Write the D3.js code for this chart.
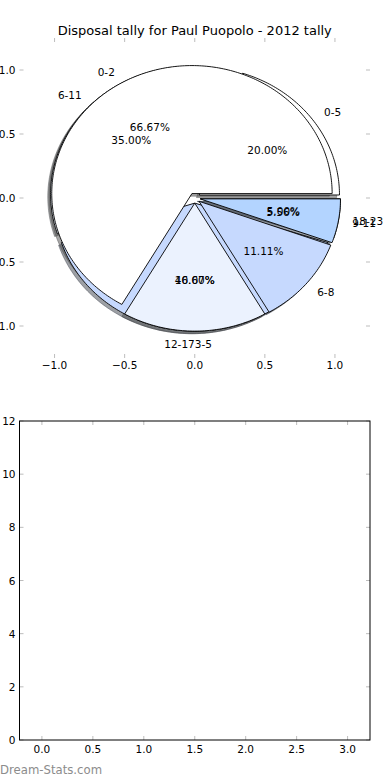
<!DOCTYPE html>
<html><head><meta charset="utf-8">
<script src="https://cdn.jsdelivr.net/npm/d3@7"></script>
<style>
body{margin:0;background:#fff;}
svg{display:block;font-family:'DejaVu Sans',sans-serif;}
</style>
</head><body>
<script>
// ---- data ----
const chartTitle = "Disposal tally for Paul Puopolo - 2012 tally";
const hourLabels6 = ["0-5", "6-11", "12-17", "18-23"];
const disposals6 = [4, 7, 8, 1];
const hourLabels3 = ["0-2", "3-5", "6-8", "9-11"];
const disposals3 = [12, 3, 2, 1];
const wedgeColors = ["#ffffff", "#ebf2fe", "#c6d9fe", "#b3d4ff"];
const explodeDist = 0.04;
const pieTicks = [-1.0, -0.5, 0.0, 0.5, 1.0];
const lowerXTicks = [0, 0.5, 1, 1.5, 2, 2.5, 3];
const lowerYTicks = [0, 2, 4, 6, 8, 10, 12];
const watermark = "Dream-Stats.com";

const W = 390, H = 780;
const svg = d3.select("body").append("svg").attr("width", W).attr("height", H);

// ---- top (pie) axes ----
const px = d3.scaleLinear().domain([-1.25, 1.25]).range([19.5, 370]);
const py = d3.scaleLinear().domain([-1.25, 1.25]).range([358, 38]);

function pieWedges(values, labels, tieAnchor) {
  const total = d3.sum(values);
  let t1 = 0;
  return values.map((v, i) => {
    const f = v / total;
    const t2 = t1 + f;
    const thm = Math.PI * (t1 + t2);
    const cx = explodeDist * Math.cos(thm), cy = explodeDist * Math.sin(thm);
    const lx = cx + 1.1 * Math.cos(thm), ly = cy + 1.1 * Math.sin(thm);
    let anchor = lx > 1e-9 ? "start" : (lx < -1e-9 ? "end" : tieAnchor);
    const w = {a1: 2 * Math.PI * t1, a2: 2 * Math.PI * t2, cx, cy, lx, ly, anchor,
      tx: cx + 0.6 * Math.cos(thm), ty: cy + 0.6 * Math.sin(thm),
      label: labels[i], pct: (100 * f).toFixed(2) + "%", color: wedgeColors[i]};
    t1 = t2;
    return w;
  });
}

function wedgePoints(w, ox, oy) {
  const pts = [[w.cx + ox, w.cy + oy]];
  const n = Math.max(2, Math.ceil((w.a2 - w.a1) / (Math.PI / 180)));
  for (let k = 0; k <= n; k++) {
    const a = w.a1 + (w.a2 - w.a1) * k / n;
    pts.push([w.cx + ox + Math.cos(a), w.cy + oy + Math.sin(a)]);
  }
  return pts;
}
const line = d3.line().x(d => px(d[0])).y(d => py(d[1]));

const pieB = pieWedges(disposals6, hourLabels6, "end");
const pieA = pieWedges(disposals3, hourLabels3, "start");
const all = pieB.concat(pieA);

function darker(c) {
  const r = d3.rgb(c);
  return d3.rgb(r.r * 0.3, r.g * 0.3, r.b * 0.3).toString();
}

const gPie = svg.append("g");
// shadows (below all wedges)
gPie.selectAll("path.shadow").data(all).join("path")
  .attr("class", "shadow")
  .attr("d", w => line(wedgePoints(w, -0.02, -0.02)) + "Z")
  .attr("fill", w => darker(w.color)).attr("fill-opacity", 0.5)
  .attr("stroke", w => darker(w.color)).attr("stroke-opacity", 0.5)
  .attr("stroke-width", 0.9);
// wedges
gPie.selectAll("path.wedge").data(all).join("path")
  .attr("class", "wedge")
  .attr("d", w => line(wedgePoints(w, 0, 0)) + "Z")
  .attr("fill", w => w.color)
  .attr("stroke", "#000").attr("stroke-width", 0.9)
  .attr("stroke-linejoin", "miter");
// labels
gPie.selectAll("text.lbl").data(all).join("text")
  .attr("class", "lbl")
  .attr("x", w => px(w.lx)).attr("y", w => py(w.ly))
  .attr("text-anchor", w => w.anchor).attr("dominant-baseline", "central")
  .attr("font-size", 10.5).attr("fill", "#000")
  .text(w => w.label);
gPie.selectAll("text.pct").data(all).join("text")
  .attr("class", "pct")
  .attr("x", w => px(w.tx)).attr("y", w => py(w.ty))
  .attr("text-anchor", "middle").attr("dominant-baseline", "central")
  .attr("font-size", 10.5).attr("fill", "#000")
  .text(w => w.pct);

// ticks for pie axes
const tickColor = "#bdbdbd", tl = 4;
const fmt1 = d3.format(".1f");
function drawTicks(g, xs, ys, xT, yT, top, bottom, left, right) {
  xT.forEach(t => {
    g.append("line").attr("x1", xs(t)).attr("x2", xs(t)).attr("y1", top).attr("y2", top + tl)
      .attr("stroke", tickColor).attr("stroke-width", 1);
    g.append("line").attr("x1", xs(t)).attr("x2", xs(t)).attr("y1", bottom).attr("y2", bottom - tl)
      .attr("stroke", tickColor).attr("stroke-width", 1);
  });
  yT.forEach(t => {
    g.append("line").attr("x1", left).attr("x2", left + tl).attr("y1", ys(t)).attr("y2", ys(t))
      .attr("stroke", tickColor).attr("stroke-width", 1);
    g.append("line").attr("x1", right).attr("x2", right - tl).attr("y1", ys(t)).attr("y2", ys(t))
      .attr("stroke", tickColor).attr("stroke-width", 1);
  });
}
const gTop = svg.append("g");
drawTicks(gTop, px, py, pieTicks, pieTicks, 38, 358, 19.5, 370);
gTop.selectAll("text.xt").data(pieTicks).join("text")
  .attr("x", d => px(d)).attr("y", 365).attr("text-anchor", "middle")
  .attr("dominant-baseline", "central").attr("font-size", 10.5).text(d => fmt1(d));
gTop.selectAll("text.yt").data(pieTicks).join("text")
  .attr("x", 15.5).attr("y", d => py(d)).attr("text-anchor", "end")
  .attr("dominant-baseline", "central").attr("font-size", 10.5).text(d => fmt1(d));

svg.append("text").attr("x", 194.75).attr("y", 30).attr("text-anchor", "middle")
  .attr("dominant-baseline", "central").attr("font-size", 13).text(chartTitle);

// ---- bottom (empty) axes ----
const bx = d3.scaleLinear().domain([-0.22, 3.22]).range([19.5, 370]);
const by = d3.scaleLinear().domain([0, 12]).range([740, 421]);
const gBot = svg.append("g");
drawTicks(gBot, bx, by, lowerXTicks, lowerYTicks, 421, 740, 19.5, 370);
gBot.append("rect").attr("x", 19.5).attr("y", 421).attr("width", 350.5).attr("height", 319)
  .attr("fill", "none").attr("stroke", "#000").attr("stroke-width", 1);
gBot.selectAll("text.xt").data(lowerXTicks).join("text")
  .attr("x", d => bx(d)).attr("y", 748.5).attr("text-anchor", "middle")
  .attr("dominant-baseline", "central").attr("font-size", 10.5).text(d => fmt1(d));
gBot.selectAll("text.yt").data(lowerYTicks).join("text")
  .attr("x", 15.5).attr("y", d => by(d)).attr("text-anchor", "end")
  .attr("dominant-baseline", "central").attr("font-size", 10.5).text(d => d);

svg.append("text").attr("x", 0).attr("y", 770).attr("dominant-baseline", "central")
  .attr("font-size", 11.7).attr("fill", "#8c8c8c").text(watermark);
</script>
</body></html>
